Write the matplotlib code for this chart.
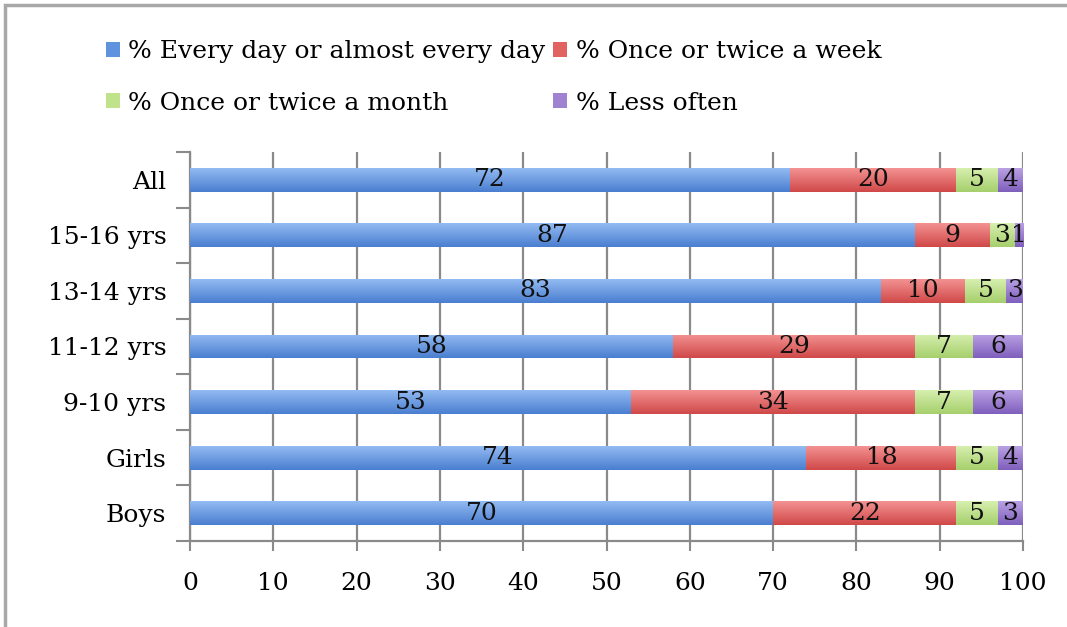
import matplotlib
matplotlib.use("Agg")
import matplotlib.pyplot as plt
import numpy as np
from matplotlib.patches import Rectangle
from matplotlib.colors import LinearSegmentedColormap

categories = ["Boys", "Girls", "9-10 yrs", "11-12 yrs", "13-14 yrs", "15-16 yrs", "All"]
# printed labels
every_day = [70, 74, 53, 58, 83, 87, 72]
week = [22, 18, 34, 29, 10, 9, 20]
month = [5, 5, 7, 7, 5, 3, 5]
less = [3, 4, 6, 6, 3, 1, 4]
# bar lengths as drawn (the last segment is clipped so each bar ends at 100)
less_drawn = [3, 3, 6, 6, 2, 1, 3]
series_names = ["% Every day or almost every day", "% Once or twice a week",
                "% Once or twice a month", "% Less often"]
x_ticks = [0, 10, 20, 30, 40, 50, 60, 70, 80, 90, 100]

colors = ["#5f93de", "#e26262", "#bfe28a", "#9f82d2"]
grad = [("#93bbf2", "#4a7ed0"), ("#f49292", "#d04848"),
        ("#d6efaf", "#a6cf6c"), ("#b9a1e4", "#7f5fbc")]

FS = 18
plt.rcParams['font.family'] = ['DejaVu Serif']
fig = plt.figure(figsize=(10.67, 6.27), dpi=100)
ax = fig.add_axes([190/1067, 1-541/627, 833/1067, 389/627])

fig.patches.append(Rectangle((5/1067, -0.1), 1.2, 1-5/627+0.1, transform=fig.transFigure,
                             fill=False, edgecolor="#a8a8a8", linewidth=2.5, zorder=0))

y = np.arange(len(categories))
widths = [every_day, week, month, less_drawn]
labels = [every_day, week, month, less]
left = np.zeros(len(categories))
handles = []
for i, vals in enumerate(widths):
    bars = ax.barh(y, vals, left=left, height=0.43, color=colors[i], zorder=3,
                   label=series_names[i], linewidth=0)
    handles.append(bars)
    cmap = LinearSegmentedColormap.from_list("g%d" % i, [grad[i][0], grad[i][1]])
    g = np.linspace(0, 1, 64).reshape(-1, 1)
    for b, lab in zip(bars, labels[i]):
        x0, y0, w, h = b.get_x(), b.get_y(), b.get_width(), b.get_height()
        im = ax.imshow(g, cmap=cmap, aspect='auto', extent=(x0, x0 + w, y0, y0 + h),
                       origin='upper', zorder=3.5, interpolation='bilinear')
        im.set_clip_path(b)
        ax.text(x0 + w / 2, y0 + h / 2, str(lab), ha='center', va='center',
                fontsize=FS, color='#111111', zorder=5)
    left = left + np.array(vals)

ax.set_xlim(0, 100)
ax.set_ylim(-0.5, len(categories) - 0.5)
ax.set_xticks(x_ticks)
ax.set_xticklabels([str(t) for t in x_ticks], fontsize=FS)
ax.set_yticks(y)
ax.set_yticklabels(categories, fontsize=FS)
ax.set_yticks(np.arange(-0.5, len(categories), 1), minor=True)
ax.tick_params(axis='y', which='major', length=0, pad=17)
ax.tick_params(axis='y', which='minor', length=10, width=1.5, color='#8a8a8a', direction='out')
ax.tick_params(axis='x', which='major', length=7, width=1.5, color='#8a8a8a', direction='out', pad=15)
ax.grid(axis='x', color='#8a8a8a', linewidth=1.6, zorder=1)
for s in ['top', 'right']:
    ax.spines[s].set_visible(False)
for s in ['left', 'bottom']:
    ax.spines[s].set_color('#8a8a8a')
    ax.spines[s].set_linewidth(1.6)

order = [0, 2, 1, 3]
leg = fig.legend([handles[k] for k in order], [series_names[k] for k in order],
                 ncol=2, loc='upper left', bbox_to_anchor=(106/1067, 1-40/627),
                 frameon=False, fontsize=FS, handlelength=0.55, handleheight=0.55,
                 handletextpad=0.35, columnspacing=0.3, labelspacing=1.15,
                 borderaxespad=0, borderpad=0)
fig.savefig("out.png", dpi=100)
